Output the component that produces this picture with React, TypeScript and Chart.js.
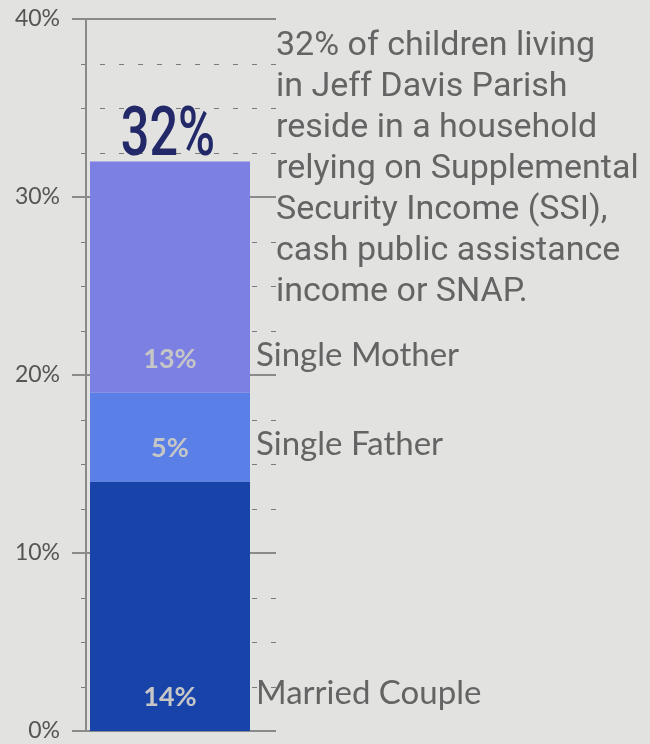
import React, { useEffect, useRef } from 'react';
import { Chart, registerables } from 'chart.js';

Chart.register(...registerables);

// ---- data ----
const categories = ['Jeff Davis Parish'];
const seriesNames = ['Married Couple', 'Single Father', 'Single Mother'];
const marriedCouple = [14];
const singleFather = [5];
const singleMother = [13];
const yMax = 40;
const yMajorStep = 10;
const yMinorStep = 2.5;
const descriptionLines = [
  '32% of children living',
  'in Jeff Davis Parish',
  'reside in a household',
  'relying on Supplemental',
  'Security Income (SSI),',
  'cash public assistance',
  'income or SNAP.',
];

// ---- style ----
const BG = '#e2e2e0';
const seriesColors = ['#1844aa', '#5a80e8', '#7c80e2'];
const TEXT_GRAY = '#646464';

const backgroundPlugin = {
  id: 'bg',
  beforeDraw(chart: any) {
    const { ctx, width, height } = chart;
    ctx.save();
    ctx.fillStyle = BG;
    ctx.fillRect(0, 0, width, height);
    ctx.restore();
  },
};

const gridPlugin = {
  id: 'customGrid',
  beforeDatasetsDraw(chart: any) {
    const { ctx, chartArea, scales } = chart;
    const y = scales.y;
    const left = chartArea.left;
    const right = chartArea.right + 22;
    ctx.save();
    // minor dashed lines
    for (let v = 0; v <= yMax + 1e-9; v += yMinorStep) {
      if (Math.abs(v % yMajorStep) < 1e-9) continue;
      const py = Math.round(y.getPixelForValue(v)) + 0.5;
      ctx.strokeStyle = '#7a7a7a';
      ctx.lineWidth = 1;
      ctx.setLineDash([5, 14]);
      ctx.beginPath();
      ctx.moveTo(right, py);
      ctx.lineTo(left - 10, py);
      ctx.stroke();
    }
    ctx.setLineDash([]);
    // major solid lines
    for (let v = 0; v <= yMax + 1e-9; v += yMajorStep) {
      const py = Math.round(y.getPixelForValue(v));
      ctx.strokeStyle = '#8a8a8a';
      ctx.lineWidth = 2;
      ctx.beginPath();
      ctx.moveTo(left - 14, py);
      ctx.lineTo(right, py);
      ctx.stroke();
    }
    // vertical axis line
    ctx.strokeStyle = '#8a8a8a';
    ctx.lineWidth = 2;
    ctx.beginPath();
    ctx.moveTo(left, y.getPixelForValue(yMax));
    ctx.lineTo(left, y.getPixelForValue(0));
    ctx.stroke();
    ctx.restore();
  },
};

const labelsPlugin = {
  id: 'customLabels',
  afterDatasetsDraw(chart: any) {
    const { ctx, chartArea } = chart;
    ctx.save();
    let topEl: any = null;
    let total = 0;
    chart.data.datasets.forEach((ds: any, i: number) => {
      const meta = chart.getDatasetMeta(i);
      const el: any = meta.data[0];
      if (!el) return;
      const value = ds.data[0];
      total += value;
      topEl = el;
      const bottom = Math.max(el.base, el.y);
      // value label inside bar
      ctx.fillStyle = '#c6c6c6';
      ctx.font = 'bold 27px Lato';
      ctx.textAlign = 'center';
      ctx.textBaseline = 'alphabetic';
      ctx.fillText(value + '%', el.x, bottom - 25);
      // series name to the right
      ctx.fillStyle = TEXT_GRAY;
      ctx.font = '33px Lato';
      ctx.textAlign = 'left';
      ctx.fillText(ds.label, el.x + el.width / 2 + 6, bottom - 27);
    });
    if (topEl) {
      const topY = Math.min(topEl.y, topEl.base);
      ctx.save();
      ctx.translate(topEl.x - 2, topY - 6);
      ctx.scale(0.74, 1);
      ctx.fillStyle = '#222868';
      ctx.font = '500 68px Roboto';
      ctx.textAlign = 'center';
      ctx.textBaseline = 'alphabetic';
      ctx.fillText(total + '%', 0, 0);
      ctx.restore();
    }
    // description paragraph
    ctx.fillStyle = TEXT_GRAY;
    ctx.font = '34px Roboto';
    ctx.textAlign = 'left';
    ctx.textBaseline = 'alphabetic';
    descriptionLines.forEach((line, i) => {
      ctx.fillText(line, chartArea.right + 22, chartArea.top + 36 + i * 41);
    });
    ctx.restore();
  },
};

export default function App() {
  const canvasRef = useRef<HTMLCanvasElement | null>(null);

  useEffect(() => {
    document.body.style.margin = '0';
    document.body.style.background = BG;
    const canvas = canvasRef.current;
    if (!canvas) return;
    const seriesData = [marriedCouple, singleFather, singleMother];
    const chart = new Chart(canvas, {
      type: 'bar',
      data: {
        labels: categories,
        datasets: seriesNames.map((name, i) => ({
          label: name,
          data: seriesData[i],
          backgroundColor: seriesColors[i],
          borderWidth: 0,
          barPercentage: 160 / 168,
          categoryPercentage: 1,
        })),
      },
      options: {
        animation: false,
        responsive: false,
        devicePixelRatio: 1,
        layout: { padding: { left: 0, right: 396, top: 19, bottom: 13 } },
        plugins: { legend: { display: false }, tooltip: { enabled: false } },
        scales: {
          x: { display: false, stacked: true },
          y: {
            stacked: true,
            min: 0,
            max: yMax,
            grid: { display: false, drawTicks: false },
            border: { display: false },
            ticks: {
              stepSize: yMajorStep,
              padding: 26,
              color: '#555555',
              font: { family: 'Lato', size: 23 },
              callback: (v: any) => v + '%',
            },
            afterFit: (s: any) => {
              s.width = 86;
              s.paddingTop = 0;
              s.paddingBottom = 0;
            },
          },
        },
      },
      plugins: [backgroundPlugin, gridPlugin, labelsPlugin],
    });
    const fontsToLoad = ['23px Lato', 'bold 27px Lato', '33px Lato', '34px Roboto', '500 68px Roboto'];
    Promise.all(fontsToLoad.map((f) => (document as any).fonts.load(f)))
      .then(() => chart.update())
      .catch(() => {});
    return () => chart.destroy();
  }, []);

  return (
    <div style={{ width: 650, height: 744 }}>
      <canvas ref={canvasRef} width={650} height={744} style={{ display: 'block' }} />
    </div>
  );
}
